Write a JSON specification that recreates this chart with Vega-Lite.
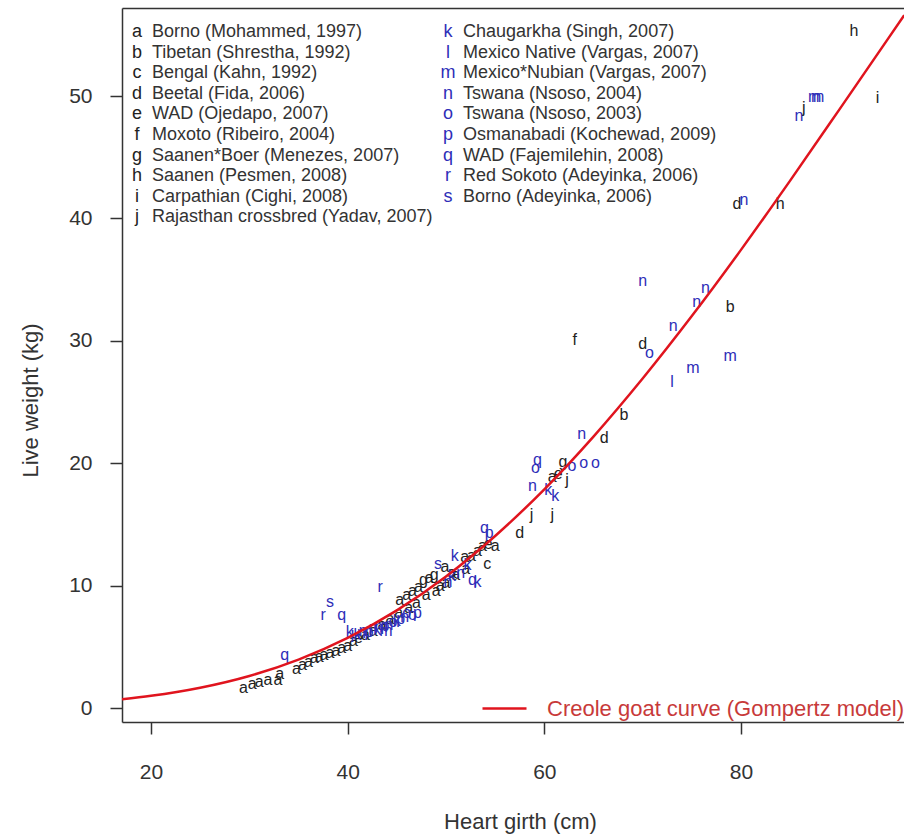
{
  "$schema": "https://vega.github.io/schema/vega-lite/v6.json",
  "width": 782,
  "height": 714,
  "autosize": {"type": "none"},
  "padding": {"left": 122, "top": 8, "right": 0, "bottom": 115},
  "background": "white",
  "config": {
    "view": {"stroke": null},
    "font": "Liberation Sans",
    "axis": {"grid": false, "domainColor": "#333", "domainWidth": 1.5, "tickColor": "#333", "tickWidth": 1.5, "labelColor": "#333", "titleColor": "#333", "titleFontWeight": "normal"}
  },
  "datasets": {
    "obs": [
      {"s": "a", "girth": 29.4, "weight": 1.6},
      {"s": "a", "girth": 30.3, "weight": 2.0},
      {"s": "a", "girth": 31.0, "weight": 2.1},
      {"s": "a", "girth": 31.9, "weight": 2.3},
      {"s": "a", "girth": 32.9, "weight": 2.3},
      {"s": "a", "girth": 33.1, "weight": 2.8},
      {"s": "a", "girth": 34.8, "weight": 3.2},
      {"s": "a", "girth": 35.4, "weight": 3.5},
      {"s": "a", "girth": 36.0, "weight": 3.8},
      {"s": "a", "girth": 36.6, "weight": 4.1},
      {"s": "a", "girth": 37.1, "weight": 4.2},
      {"s": "a", "girth": 37.6, "weight": 4.3},
      {"s": "a", "girth": 38.2, "weight": 4.5},
      {"s": "a", "girth": 38.8, "weight": 4.7},
      {"s": "a", "girth": 39.4, "weight": 4.9},
      {"s": "a", "girth": 40.0, "weight": 5.1},
      {"s": "a", "girth": 40.6, "weight": 5.5},
      {"s": "e", "girth": 41.1, "weight": 5.7},
      {"s": "a", "girth": 41.8, "weight": 6.0},
      {"s": "a", "girth": 42.6, "weight": 6.3},
      {"s": "a", "girth": 43.5, "weight": 6.8},
      {"s": "a", "girth": 44.3, "weight": 7.3},
      {"s": "a", "girth": 45.2, "weight": 7.8},
      {"s": "a", "girth": 46.2, "weight": 8.2},
      {"s": "a", "girth": 45.3, "weight": 8.8},
      {"s": "a", "girth": 46.0, "weight": 9.2},
      {"s": "a", "girth": 46.6, "weight": 9.6},
      {"s": "a", "girth": 47.2, "weight": 9.9},
      {"s": "g", "girth": 47.7, "weight": 10.5},
      {"s": "a", "girth": 48.3, "weight": 10.6},
      {"s": "g", "girth": 48.8, "weight": 10.9},
      {"s": "a", "girth": 49.9, "weight": 11.5},
      {"s": "a", "girth": 47.0, "weight": 8.6},
      {"s": "a", "girth": 48.0, "weight": 9.2},
      {"s": "a", "girth": 49.0, "weight": 9.6},
      {"s": "a", "girth": 49.4, "weight": 10.0},
      {"s": "a", "girth": 50.0, "weight": 10.2},
      {"s": "a", "girth": 50.6, "weight": 11.0},
      {"s": "a", "girth": 51.0, "weight": 10.9},
      {"s": "a", "girth": 52.0, "weight": 11.4},
      {"s": "a", "girth": 51.9, "weight": 12.3},
      {"s": "a", "girth": 52.6, "weight": 12.4},
      {"s": "a", "girth": 53.2, "weight": 12.8},
      {"s": "a", "girth": 53.7, "weight": 13.2},
      {"s": "e", "girth": 54.3, "weight": 13.4},
      {"s": "a", "girth": 55.0, "weight": 13.2},
      {"s": "c", "girth": 54.2, "weight": 11.8},
      {"s": "d", "girth": 57.5, "weight": 14.3},
      {"s": "j", "girth": 58.7, "weight": 15.8},
      {"s": "j", "girth": 60.8, "weight": 15.8},
      {"s": "a", "girth": 60.8, "weight": 18.9},
      {"s": "e", "girth": 61.4, "weight": 19.1},
      {"s": "j", "girth": 62.3, "weight": 18.6},
      {"s": "g", "girth": 61.9, "weight": 20.1},
      {"s": "d", "girth": 66.1, "weight": 22.1},
      {"s": "b", "girth": 68.1, "weight": 23.9},
      {"s": "f", "girth": 63.1, "weight": 30.1},
      {"s": "d", "girth": 70.0, "weight": 29.7},
      {"s": "b", "girth": 78.9, "weight": 32.8},
      {"s": "d", "girth": 79.6, "weight": 41.2},
      {"s": "h", "girth": 84.0, "weight": 41.2},
      {"s": "j", "girth": 86.4, "weight": 49.0},
      {"s": "i", "girth": 93.9, "weight": 49.8},
      {"s": "h", "girth": 91.5, "weight": 55.3},
      {"s": "q", "girth": 33.6, "weight": 4.3},
      {"s": "r", "girth": 37.5, "weight": 7.6},
      {"s": "s", "girth": 38.2, "weight": 8.7},
      {"s": "q", "girth": 39.4, "weight": 7.6},
      {"s": "k", "girth": 40.2, "weight": 6.2},
      {"s": "l", "girth": 40.5, "weight": 5.8},
      {"s": "r", "girth": 43.3, "weight": 9.9},
      {"s": "k", "girth": 41.0, "weight": 6.0},
      {"s": "n", "girth": 41.4, "weight": 6.1},
      {"s": "m", "girth": 41.8, "weight": 6.3},
      {"s": "p", "girth": 42.2, "weight": 6.2},
      {"s": "n", "girth": 42.6, "weight": 6.5},
      {"s": "k", "girth": 43.0, "weight": 6.4},
      {"s": "m", "girth": 43.4, "weight": 6.6},
      {"s": "p", "girth": 43.8, "weight": 6.7},
      {"s": "n", "girth": 44.2, "weight": 6.8},
      {"s": "o", "girth": 44.6, "weight": 7.0},
      {"s": "k", "girth": 45.0, "weight": 7.1},
      {"s": "p", "girth": 45.4, "weight": 7.3},
      {"s": "n", "girth": 45.8, "weight": 7.4},
      {"s": "m", "girth": 43.9, "weight": 6.3},
      {"s": "o", "girth": 46.0, "weight": 7.8},
      {"s": "o", "girth": 46.6, "weight": 7.6},
      {"s": "p", "girth": 47.1, "weight": 7.8},
      {"s": "s", "girth": 49.2, "weight": 11.8},
      {"s": "k", "girth": 50.9, "weight": 12.4},
      {"s": "n", "girth": 50.2, "weight": 10.3},
      {"s": "k", "girth": 50.6, "weight": 10.8},
      {"s": "n", "girth": 51.5, "weight": 11.0},
      {"s": "k", "girth": 52.2, "weight": 11.7},
      {"s": "q", "girth": 52.7, "weight": 10.5},
      {"s": "k", "girth": 53.2, "weight": 10.3},
      {"s": "q", "girth": 53.9, "weight": 14.7},
      {"s": "p", "girth": 54.4, "weight": 14.3},
      {"s": "q", "girth": 59.3, "weight": 20.3},
      {"s": "o", "girth": 59.1, "weight": 19.6},
      {"s": "n", "girth": 58.8, "weight": 18.1},
      {"s": "k", "girth": 60.4, "weight": 17.8},
      {"s": "k", "girth": 61.1, "weight": 17.3},
      {"s": "o", "girth": 62.8, "weight": 19.8},
      {"s": "o", "girth": 64.0, "weight": 20.0},
      {"s": "o", "girth": 65.2, "weight": 20.0},
      {"s": "n", "girth": 63.8, "weight": 22.4},
      {"s": "o", "girth": 70.7, "weight": 29.0},
      {"s": "l", "girth": 73.0, "weight": 26.6},
      {"s": "m", "girth": 75.1, "weight": 27.8},
      {"s": "m", "girth": 78.9, "weight": 28.8},
      {"s": "n", "girth": 73.1, "weight": 31.2},
      {"s": "n", "girth": 75.5, "weight": 33.2},
      {"s": "n", "girth": 76.4, "weight": 34.3},
      {"s": "n", "girth": 70.0, "weight": 34.9},
      {"s": "n", "girth": 80.3, "weight": 41.5},
      {"s": "n", "girth": 85.9, "weight": 48.4},
      {"s": "m", "girth": 87.5, "weight": 49.9},
      {"s": "m", "girth": 87.8, "weight": 49.9}
    ],
    "curve": [
      {"girth": 17.05, "weight": 0.72},
      {"girth": 20, "weight": 1.0},
      {"girth": 25, "weight": 1.66},
      {"girth": 30, "weight": 2.62},
      {"girth": 35, "weight": 3.96},
      {"girth": 40, "weight": 5.73},
      {"girth": 45, "weight": 7.98},
      {"girth": 50, "weight": 10.75},
      {"girth": 55, "weight": 14.06},
      {"girth": 60, "weight": 17.87},
      {"girth": 65, "weight": 22.18},
      {"girth": 70, "weight": 26.92},
      {"girth": 75, "weight": 32.02},
      {"girth": 80, "weight": 37.43},
      {"girth": 85, "weight": 43.09},
      {"girth": 90, "weight": 48.89},
      {"girth": 95, "weight": 54.73},
      {"girth": 96.6, "weight": 56.6}
    ],
    "studies": [
      {"s": "a", "study": "Borno (Mohammed, 1997)", "col": 1, "row": 1},
      {"s": "b", "study": "Tibetan (Shrestha, 1992)", "col": 1, "row": 2},
      {"s": "c", "study": "Bengal (Kahn, 1992)", "col": 1, "row": 3},
      {"s": "d", "study": "Beetal (Fida, 2006)", "col": 1, "row": 4},
      {"s": "e", "study": "WAD (Ojedapo, 2007)", "col": 1, "row": 5},
      {"s": "f", "study": "Moxoto (Ribeiro, 2004)", "col": 1, "row": 6},
      {"s": "g", "study": "Saanen*Boer (Menezes, 2007)", "col": 1, "row": 7},
      {"s": "h", "study": "Saanen (Pesmen, 2008)", "col": 1, "row": 8},
      {"s": "i", "study": "Carpathian (Cighi, 2008)", "col": 1, "row": 9},
      {"s": "j", "study": "Rajasthan crossbred (Yadav, 2007)", "col": 1, "row": 10},
      {"s": "k", "study": "Chaugarkha (Singh, 2007)", "col": 2, "row": 1},
      {"s": "l", "study": "Mexico Native (Vargas, 2007)", "col": 2, "row": 2},
      {"s": "m", "study": "Mexico*Nubian (Vargas, 2007)", "col": 2, "row": 3},
      {"s": "n", "study": "Tswana (Nsoso, 2004)", "col": 2, "row": 4},
      {"s": "o", "study": "Tswana (Nsoso, 2003)", "col": 2, "row": 5},
      {"s": "p", "study": "Osmanabadi (Kochewad, 2009)", "col": 2, "row": 6},
      {"s": "q", "study": "WAD (Fajemilehin, 2008)", "col": 2, "row": 7},
      {"s": "r", "study": "Red Sokoto (Adeyinka, 2006)", "col": 2, "row": 8},
      {"s": "s", "study": "Borno (Adeyinka, 2006)", "col": 2, "row": 9}
    ]
  },
  "layer": [
    {
      "layer": [
        {
          "data": {"name": "obs"},
          "mark": {"type": "text", "fontSize": 16, "align": "center", "baseline": "middle"},
          "encoding": {
            "x": {"field": "girth", "type": "quantitative", "scale": {"domain": [17.05, 96.58], "nice": false, "zero": false},
              "axis": {"title": "Heart girth (cm)", "values": [20, 40, 60, 80], "tickSize": 12, "labelFontSize": 21, "labelPadding": 27, "titleFontSize": 22, "titlePadding": 29, "titleX": 398}},
            "y": {"field": "weight", "type": "quantitative", "scale": {"domain": [-1.14, 57.19], "nice": false, "zero": false},
              "axis": {"title": "Live weight (kg)", "values": [0, 10, 20, 30, 40, 50], "tickSize": 12, "labelFontSize": 21, "labelPadding": 18, "titleFontSize": 22, "titlePadding": 26, "titleY": 392}},
            "text": {"field": "s"},
            "color": {"field": "s", "type": "nominal", "legend": null,
              "scale": {"domain": ["a","b","c","d","e","f","g","h","i","j","k","l","m","n","o","p","q","r","s"],
                "range": ["#222222","#222222","#222222","#222222","#222222","#222222","#222222","#222222","#222222","#222222","#2e2eb8","#2e2eb8","#2e2eb8","#2e2eb8","#2e2eb8","#2e2eb8","#2e2eb8","#2e2eb8","#2e2eb8"]}}
          }
        },
        {
          "data": {"name": "curve"},
          "mark": {"type": "line", "interpolate": "monotone", "strokeWidth": 2.5, "clip": true},
          "encoding": {
            "x": {"field": "girth", "type": "quantitative"},
            "y": {"field": "weight", "type": "quantitative"},
            "stroke": {"datum": "Creole goat curve (Gompertz model)", "type": "nominal",
              "scale": {"range": ["#e0141e"]},
              "legend": {"title": null, "orient": "none", "legendX": 359, "legendY": 677, "symbolType": "stroke", "symbolSize": 1936, "symbolStrokeWidth": 2.5, "labelFontSize": 22, "labelColor": "#c83a3a", "labelOffset": 19, "labelLimit": 600}}
          }
        }
      ]
    },
    {
      "data": {"name": "studies"},
      "encoding": {
        "x": {"field": "col", "type": "quantitative", "scale": {"domain": [0.95177, 3.4662], "nice": false, "zero": false},
          "axis": {"orient": "top", "title": null, "labels": false, "ticks": false, "domain": true}},
        "y": {"field": "row", "type": "quantitative", "scale": {"domain": [-0.165, 34.495], "reverse": true, "nice": false, "zero": false}, "axis": null}
      },
      "layer": [
        {
          "mark": {"type": "text", "fontSize": 18, "align": "center", "baseline": "middle"},
          "encoding": {"text": {"field": "s"}, "color": {"field": "s", "type": "nominal", "legend": null}}
        },
        {
          "mark": {"type": "text", "fontSize": 18, "align": "left", "baseline": "middle", "dx": 15, "color": "#333"},
          "encoding": {"text": {"field": "study"}}
        }
      ]
    }
  ],
  "resolve": {"scale": {"x": "independent", "y": "independent"}}
}
